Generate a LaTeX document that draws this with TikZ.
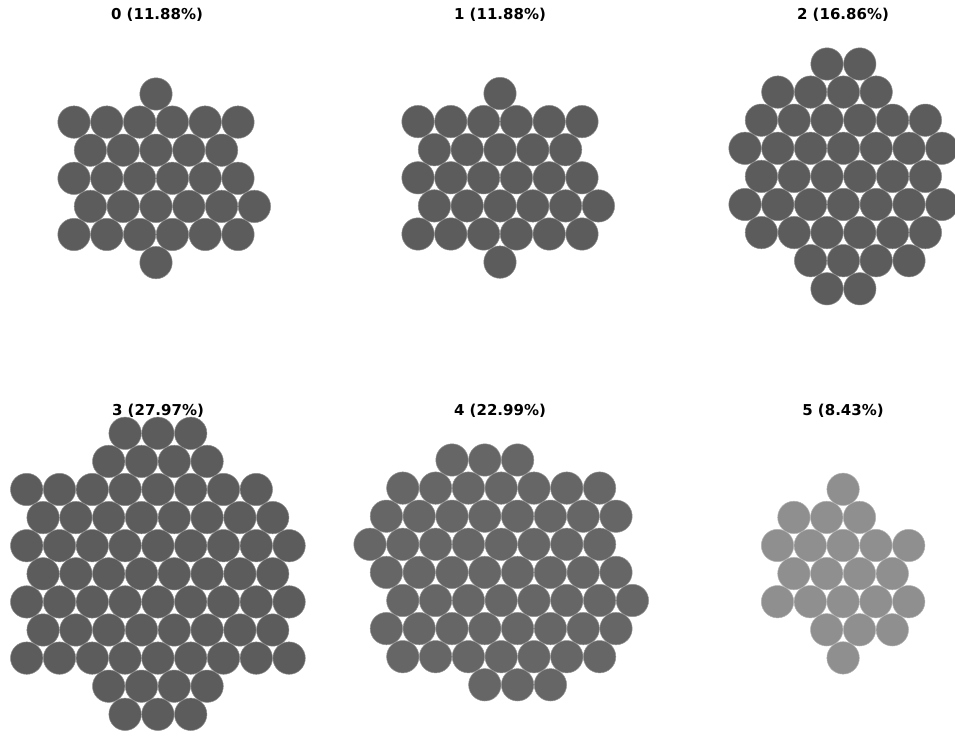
\documentclass[tikz,border=0pt]{standalone}
\usepackage{fontspec}
\setmainfont{DejaVu Sans}

% one cluster of packed balls: x0, y0, style, rows (row/first/last)
\newcommand{\ballcluster}[4]{%
  \foreach \r/\a/\b in {#4} {
    \foreach \k in {\a,...,\b}
      \path[#3] (#1+\k*32.8, #2+\r*28.1) circle (16.2);
  }%
}

\begin{document}
\begin{tikzpicture}[
    x=1pt, y=-1pt,
    darkball/.style={fill=black!64, draw=black!45, line width=0.5pt},
    midball/.style={fill=black!60, draw=black!42, line width=0.5pt},
    lightball/.style={fill=black!44, draw=black!30, line width=0.5pt},
    title/.style={font=\bfseries\fontsize{15}{18}\selectfont, inner sep=0pt}
  ]
  \useasboundingbox (0,0) rectangle (955,736);

  % top row
  \ballcluster{74}{94}{darkball}{0/2.5/2.5, 1/0/5, 2/0.5/4.5, 3/0/5, 4/0.5/5.5, 5/0/5, 6/2.5/2.5}
  \ballcluster{418}{93.5}{darkball}{0/2.5/2.5, 1/0/5, 2/0.5/4.5, 3/0/5, 4/0.5/5.5, 5/0/5, 6/2.5/2.5}
  \ballcluster{745}{64}{darkball}{0/2.5/3.5, 1/1/4, 2/0.5/5.5, 3/0/6, 4/0.5/5.5, 5/0/6, 6/0.5/5.5, 7/2/5, 8/2.5/3.5}

  % bottom row
  \ballcluster{26.7}{433.3}{darkball}{0/3/5, 1/2.5/5.5, 2/0/7, 3/0.5/7.5, 4/0/8, 5/0.5/7.5, 6/0/8, 7/0.5/7.5, 8/0/8, 9/2.5/5.5, 10/3/5}
  \ballcluster{370}{460}{midball}{0/2.5/4.5, 1/1/7, 2/0.5/7.5, 3/0/7, 4/0.5/7.5, 5/1/8, 6/0.5/7.5, 7/1/7, 8/3.5/5.5}
  \ballcluster{777.5}{489.3}{lightball}{0/2/2, 1/0.5/2.5, 2/0/4, 3/0.5/3.5, 4/0/4, 5/1.5/3.5, 6/2/2}

  \node[title] (t0) at (157,15) {0 (11.88\%)};
  \node[title] (t1) at (500,15) {1 (11.88\%)};
  \node[title] (t2) at (843,15) {2 (16.86\%)};
  \node[title] (t3) at (158,411) {3 (27.97\%)};
  \node[title] (t4) at (500,411) {4 (22.99\%)};
  \node[title] (t5) at (843,411) {5 (8.43\%)};
\end{tikzpicture}
\end{document}
